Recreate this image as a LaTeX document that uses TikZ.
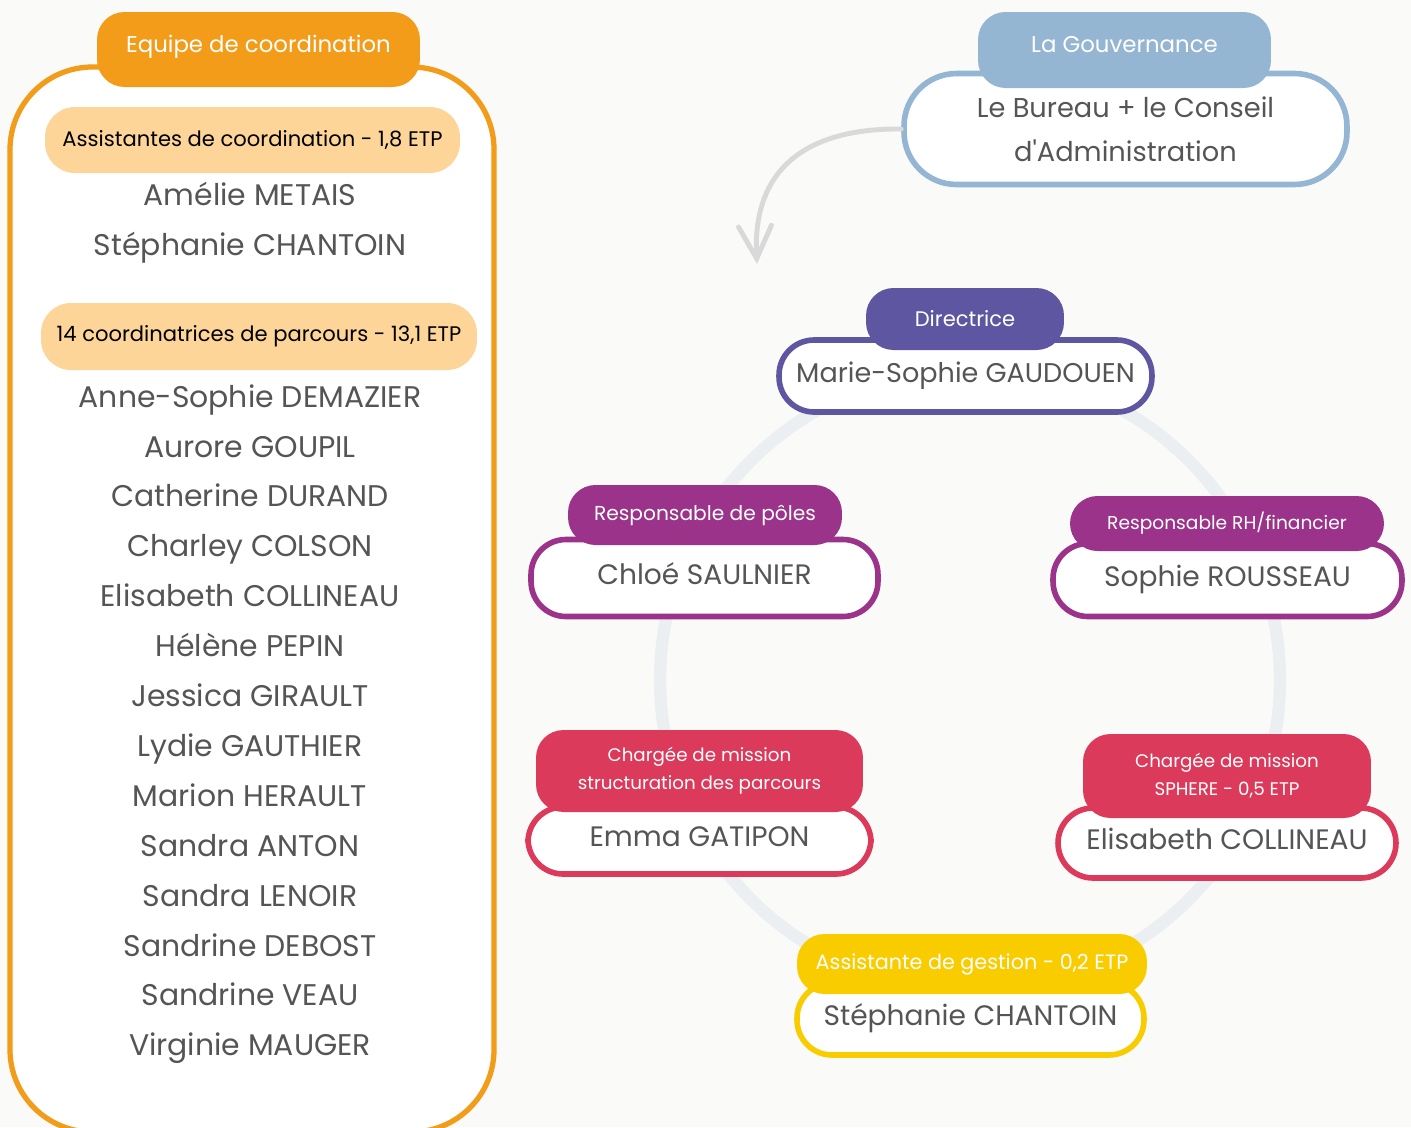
\documentclass[tikz,border=0pt]{standalone}
\usepackage{fontspec}
\setmainfont{Poppins}
\usetikzlibrary{positioning,arrows.meta}

\definecolor{bg}{HTML}{FAFAF8}
\definecolor{coordorange}{HTML}{F39C1A}
\definecolor{peach}{HTML}{FDD598}
\definecolor{govblue}{HTML}{95B6D2}
\definecolor{dirviolet}{HTML}{5E56A0}
\definecolor{plum}{HTML}{9A3389}
\definecolor{rose}{HTML}{DB3A5B}
\definecolor{gold}{HTML}{F9CC00}
\definecolor{ink}{HTML}{555555}
\definecolor{ringgray}{HTML}{ECEFF1}
\definecolor{arrowgray}{HTML}{D9D9D9}

\newcommand{\namefont}{\fontsize{16}{19}\selectfont}
\newcommand{\listfont}{\fontsize{17}{20}\selectfont}
\newcommand{\tagfont}{\fontsize{11.5}{14}\selectfont}
\newcommand{\smalltagfont}{\fontsize{10.4}{16}\selectfont}

\tikzset{
    tag/.style={fill=#1, text=white, rounded corners=0.55cm, inner sep=0pt, align=center, font=\tagfont},
    headtag/.style={tag=#1, font=\fontsize{13}{15}\selectfont, text height=0.7em, text depth=0.4em},
    card/.style={draw=#1, fill=white, line width=3.2pt, rounded corners=0.7cm, inner sep=0pt,
        text=ink, font=\namefont, text height=0.7em, text depth=0pt},
    person/.style={text=ink, font=\listfont, inner sep=0pt, text height=0.7em, text depth=0pt},
    band/.style={fill=peach, text=black, rounded corners=0.6cm, inner sep=0pt, font=\fontsize{12}{14}\selectfont},
}

\begin{document}
\begin{tikzpicture}[x=0.02cm, y=-0.02cm]
    \fill[bg] (0,0) rectangle (1411,1127);
    \clip (0,0) rectangle (1411,1127);

    % equipe de coordination
    \draw[coordorange, line width=3pt, fill=white, rounded corners=1.65cm] (10,67) rectangle (494,1132);
    \node[headtag=coordorange, minimum width=6.46cm, minimum height=1.5cm] (equipe) at (258.5,49.5) {Equipe de coordination};
    \node[band, minimum width=8.3cm, minimum height=1.32cm] (assist) at (252.5,140) {Assistantes de coordination - 1,8 ETP};
    \node[person] (a1) at (250,199) {Amélie METAIS};
    \node[person] (a2) at (250,249) {Stéphanie CHANTOIN};
    \node[band, minimum width=8.72cm, minimum height=1.34cm] (parcours) at (259,336.5) {14 coordinatrices de parcours - 13,1 ETP};
    \foreach \nm [count=\i from 0] in {Anne-Sophie DEMAZIER, Aurore GOUPIL, Catherine DURAND,
        Charley COLSON, Elisabeth COLLINEAU, Hélène PEPIN, Jessica GIRAULT, Lydie GAUTHIER,
        Marion HERAULT, Sandra ANTON, Sandra LENOIR, Sandrine DEBOST, Sandrine VEAU, Virginie MAUGER}
        \node[person] (p\i) at (250,401+49.9*\i) {\nm};

    % gouvernance
    \node[card=govblue, minimum width=8.86cm, minimum height=2.22cm, rounded corners=1.05cm,
        text height=, text depth=, align=center, font=\fontsize{15.5}{25}\selectfont] (bureau) at (1125.5,129)
        {Le Bureau + le Conseil\\d\textquotesingle Administration};
    \node[headtag=govblue, minimum width=5.86cm, minimum height=1.52cm] (gouv) at (1124.5,50) {La Gouvernance};
    \coordinate (drop) at (757,264);
    \draw[arrowgray, line width=2.8pt, line cap=round, -{Straight Barb[length=0.65cm, width=0.66cm, line cap=round]}]
        (bureau.west) .. controls (805,128) and (752,170) .. (drop);

    % equipe salariee
    \draw[ringgray, line width=7pt] (970,680) circle (6.2cm);

    \node[card=dirviolet, minimum width=7.46cm, minimum height=1.44cm, font=\fontsize{15.4}{18}\selectfont] (dir) at (965.5,376) {Marie-Sophie GAUDOUEN};
    \node[tag=dirviolet, minimum width=3.96cm, minimum height=1.24cm, font=\fontsize{12}{14}\selectfont] (dirtag) at (965,319) {Directrice};

    \node[card=plum, minimum width=6.94cm, minimum height=1.54cm] (poles) at (704.5,578) {Chloé SAULNIER};
    \node[tag=plum, minimum width=5.48cm, minimum height=1.2cm] (polestag) at (705,515) {Responsable de pôles};

    \node[card=plum, minimum width=6.98cm, minimum height=1.46cm] (rh) at (1227.5,580) {Sophie ROUSSEAU};
    \node[tag=plum, minimum width=6.28cm, minimum height=1.1cm, font=\fontsize{10.6}{13}\selectfont] (rhtag) at (1227,523.5) {Responsable RH/financier};

    \node[card=rose, minimum width=6.86cm, minimum height=1.34cm] (struct) at (699.5,840.5) {Emma GATIPON};
    \node[tag=rose, minimum width=6.54cm, minimum height=1.64cm, font=\smalltagfont] (structtag) at (699.5,771) {Chargée de mission\\structuration des parcours};

    \node[card=rose, minimum width=6.76cm, minimum height=1.4cm] (sphere) at (1227,843) {Elisabeth COLLINEAU};
    \node[tag=rose, minimum width=5.76cm, minimum height=1.68cm, font=\smalltagfont] (spheretag) at (1227,776) {Chargée de mission\\SPHERE - 0,5 ETP};

    \node[card=gold, minimum width=6.94cm, minimum height=1.44cm] (gestion) at (970.5,1019) {Stéphanie CHANTOIN};
    \node[tag=gold, minimum width=7cm, minimum height=1.2cm, font=\fontsize{11.8}{14}\selectfont] (gestiontag) at (972,964) {Assistante de gestion - 0,2 ETP};
\end{tikzpicture}
\end{document}
